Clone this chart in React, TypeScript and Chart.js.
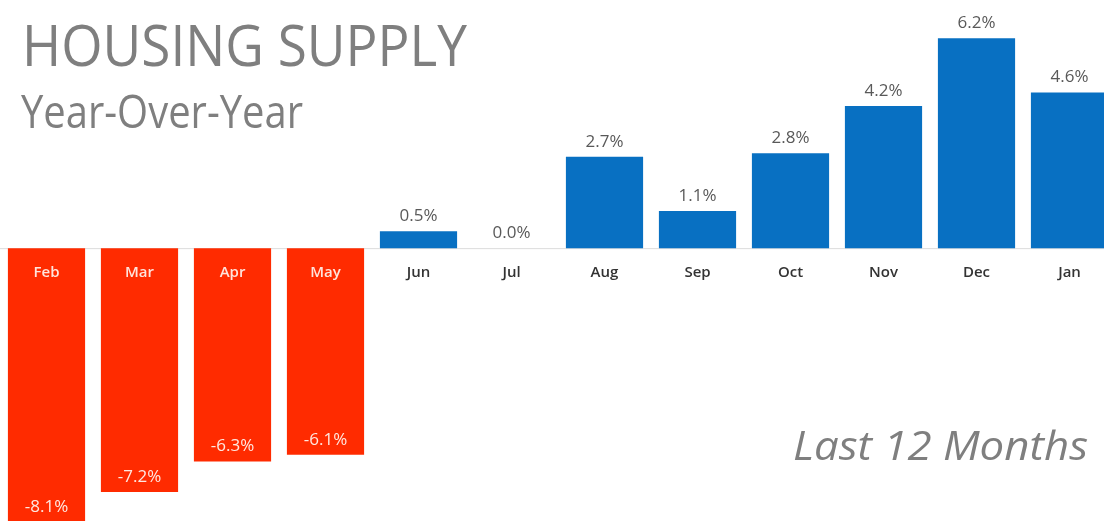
import React, { useEffect, useRef } from "react";
import { Chart, registerables } from "chart.js";

Chart.register(...registerables);

const categories = ["Feb", "Mar", "Apr", "May", "Jun", "Jul", "Aug", "Sep", "Oct", "Nov", "Dec", "Jan"];
const values = [-8.1, -7.2, -6.3, -6.1, 0.5, 0.0, 2.7, 1.1, 2.8, 4.2, 6.2, 4.6];
const valueLabels = ["-8.1%", "-7.2%", "-6.3%", "-6.1%", "0.5%", "0.0%", "2.7%", "1.1%", "2.8%", "4.2%", "6.2%", "4.6%"];
const titleText = "HOUSING SUPPLY";
const subtitleText = "Year-Over-Year";
const footText = "Last 12 Months";

const BLUE = "#0870C2";
const RED = "#FF2B00";
const FONT = "'Open Sans', 'DejaVu Sans', sans-serif";

function drawFit(ctx: CanvasRenderingContext2D, text: string, x: number, y: number, font: string, width: number, align: "left" | "right") {
  ctx.save();
  ctx.font = font;
  ctx.textBaseline = "alphabetic";
  ctx.textAlign = "left";
  const w = ctx.measureText(text).width;
  const s = width / w;
  const startX = align === "left" ? x : x - width;
  ctx.translate(startX, y);
  ctx.scale(s, 1);
  ctx.fillText(text, 0, 0);
  ctx.restore();
}

const labelPlugin = {
  id: "labels",
  beforeDatasetsDraw(chart: any) {
    const ctx = chart.ctx;
    const y0 = chart.scales.y.getPixelForValue(0);
    ctx.save();
    ctx.strokeStyle = "#dcdcdc";
    ctx.lineWidth = 1;
    ctx.beginPath();
    ctx.moveTo(0, y0 + 0.5);
    ctx.lineTo(chart.width, y0 + 0.5);
    ctx.stroke();
    ctx.restore();
  },
  afterDatasetsDraw(chart: any) {
    const ctx = chart.ctx;
    const meta = chart.getDatasetMeta(0);
    const y0 = chart.scales.y.getPixelForValue(0);
    ctx.save();
    ctx.textAlign = "center";
    ctx.textBaseline = "alphabetic";
    meta.data.forEach((bar: any, i: number) => {
      const v = values[i];
      ctx.font = `600 15px ${FONT}`;
      ctx.fillStyle = v < 0 ? "#FFE4DC" : "#333333";
      ctx.fillText(categories[i], bar.x, y0 + 29);
      ctx.font = `17px ${FONT}`;
      if (v < 0) {
        ctx.fillStyle = "#FFE8E0";
        ctx.fillText(valueLabels[i], bar.x, bar.y - 10);
      } else {
        ctx.fillStyle = "#595959";
        ctx.fillText(valueLabels[i], bar.x, bar.y - 10);
      }
    });
    ctx.restore();

    ctx.save();
    ctx.fillStyle = "#7F7F7F";
    drawFit(ctx, titleText, 22, 66, `57px ${FONT}`, 445, "left");
    drawFit(ctx, subtitleText, 21, 128, `45px ${FONT}`, 282, "left");
    drawFit(ctx, footText, 1088, 460, `italic 40px ${FONT}`, 295, "right");
    ctx.restore();
  },
};

export default function App() {
  const ref = useRef<HTMLCanvasElement | null>(null);
  useEffect(() => {
    if (!ref.current) return;
    const chart = new Chart(ref.current, {
      type: "bar",
      data: {
        labels: categories,
        datasets: [
          {
            data: values,
            backgroundColor: values.map((v) => (v < 0 ? RED : BLUE)),
            borderWidth: 0,
            barPercentage: 0.83,
            categoryPercentage: 1,
          },
        ],
      },
      options: {
        animation: false,
        responsive: false,
        devicePixelRatio: 1,
        layout: { padding: 0 },
        plugins: {
          legend: { display: false },
          tooltip: { enabled: false },
          title: { display: false },
        },
        scales: {
          x: { display: false, offset: true },
          y: { display: false, min: -8.06, max: 7.33 },
        },
      },
      plugins: [labelPlugin],
    });
    return () => chart.destroy();
  }, []);
  return (
    <div style={{ position: "fixed", left: 0, top: 0, width: 1104, height: 521, overflow: "hidden", background: "#fff" }}>
      <canvas ref={ref} width={1116} height={521} style={{ display: "block" }} />
    </div>
  );
}
